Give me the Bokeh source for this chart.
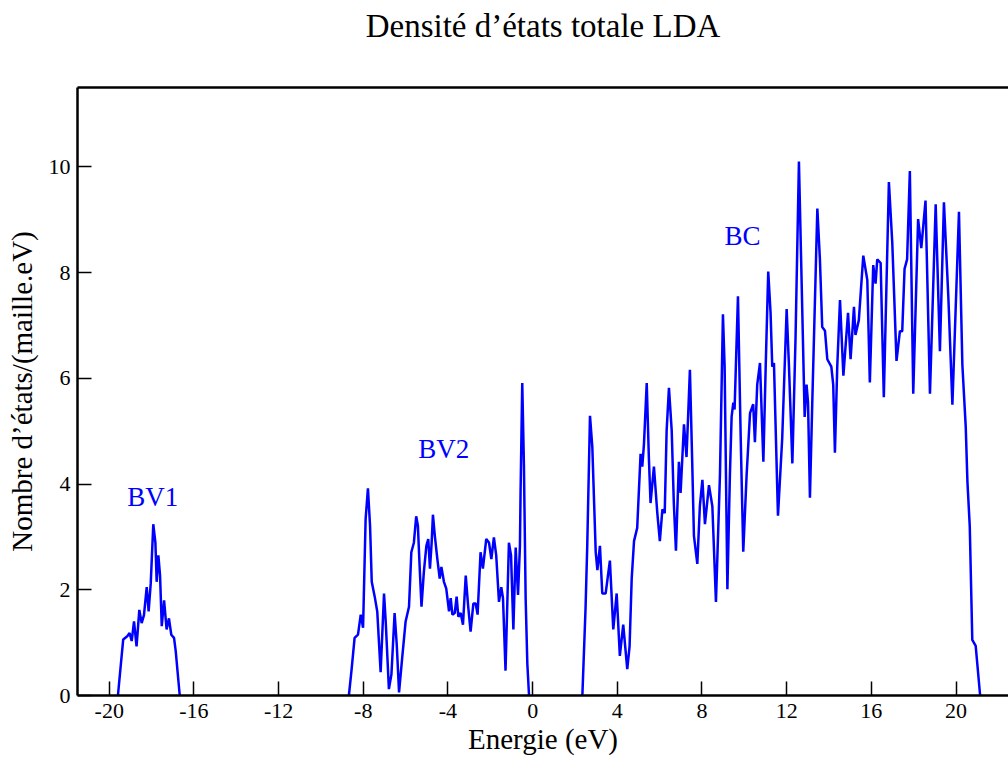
from bokeh.plotting import figure
from bokeh.models import Range1d, FixedTicker, LinearAxis, ColumnDataSource, Title
from bokeh.core.properties import value
from bokeh.embed import file_html
from bokeh.resources import INLINE

# ---- data ----
energy = [
    -19.59, -19.45, -19.34, -19.15, -19.04, -18.94, -18.83, -18.71, -18.58, -18.47,
    -18.36, -18.23, -18.14, -18.04, -17.92, -17.82, -17.76, -17.68, -17.60, -17.52,
    -17.41, -17.29, -17.18, -17.07, -16.94, -16.86, -16.75, -16.67,
    -8.68, -8.55, -8.41, -8.25, -8.12, -8.01, -7.89, -7.78, -7.68, -7.60, -7.46, -7.34,
    -7.18, -7.02, -6.94, -6.79, -6.67, -6.52, -6.42, -6.31, -6.16, -6.00, -5.84, -5.73,
    -5.61, -5.50, -5.42, -5.34, -5.25, -5.14, -5.02, -4.93, -4.85, -4.77, -4.71, -4.62,
    -4.50, -4.39, -4.31, -4.19, -4.08, -3.95, -3.87, -3.79, -3.68, -3.59, -3.51, -3.40,
    -3.29, -3.16, -3.05, -2.93, -2.80, -2.69, -2.60, -2.46, -2.35, -2.19, -2.06, -1.95,
    -1.83, -1.72, -1.59, -1.48, -1.40, -1.28, -1.12, -1.02, -0.91, -0.80, -0.69, -0.60,
    -0.57, -0.49, -0.41, -0.33, -0.25, -0.17,
    2.35, 2.50, 2.58, 2.71, 2.82, 2.98, 3.06, 3.18, 3.29, 3.45, 3.65, 3.81, 3.97, 4.12,
    4.28, 4.47, 4.58, 4.68, 4.79, 4.94, 5.10, 5.18, 5.26, 5.39, 5.49, 5.57, 5.73, 5.89,
    6.01, 6.13, 6.24, 6.33, 6.44, 6.57, 6.67, 6.77, 6.91, 6.99, 7.15, 7.27, 7.43, 7.54,
    7.62, 7.78, 7.90, 8.02, 8.14, 8.33, 8.49, 8.66, 8.85, 8.99, 9.07, 9.20, 9.32, 9.40,
    9.48, 9.54, 9.70, 9.83, 9.95, 10.11, 10.27, 10.42, 10.50, 10.61, 10.74, 10.90, 11.01,
    11.13, 11.24, 11.32, 11.40, 11.59, 11.79, 12.00, 12.11, 12.27, 12.42, 12.58, 12.74,
    12.85, 12.94, 13.01, 13.10, 13.21, 13.45, 13.57, 13.68, 13.81, 13.92, 14.11, 14.20,
    14.28, 14.39, 14.52, 14.68, 14.90, 15.02, 15.18, 15.25, 15.41, 15.62, 15.81, 15.93,
    16.09, 16.20, 16.28, 16.44, 16.59, 16.83, 16.99, 17.19, 17.35, 17.46, 17.57, 17.69,
    17.82, 17.98, 18.21, 18.36, 18.56, 18.77, 19.04, 19.24, 19.43, 19.64, 19.83, 20.14,
    20.30, 20.46, 20.54, 20.65, 20.77, 20.93, 21.14,
]
dos = [
    0.0, 0.60, 1.06, 1.12, 1.18, 1.03, 1.40, 0.93, 1.62, 1.37,
    1.52, 2.05, 1.59, 2.12, 3.24, 2.89, 2.15, 2.65, 2.27, 1.31,
    1.80, 1.25, 1.46, 1.15, 1.09, 0.84, 0.35, 0.0,
    0.0, 0.50, 1.09, 1.15, 1.53, 1.28, 3.33, 3.92, 3.21, 2.15, 1.87, 1.59,
    0.44, 1.93, 1.40, 0.12, 0.40, 1.56, 0.97, 0.06, 0.72, 1.40, 1.68, 2.71,
    2.89, 3.39, 3.21, 2.46, 1.68, 2.33, 2.83, 2.96, 2.40, 2.89, 3.42, 3.02,
    2.58, 2.21, 2.43, 2.15, 2.02, 1.59, 1.84, 1.53, 1.56, 1.87, 1.49, 1.56,
    1.34, 2.27, 1.71, 1.21, 1.74, 1.74, 1.53, 2.71, 2.40, 2.96, 2.89, 2.58,
    2.99, 2.65, 1.77, 2.05, 1.84, 0.47, 2.89, 2.65, 1.25, 2.80, 1.90, 2.83,
    3.83, 5.91, 4.33, 1.84, 0.60, 0.0,
    0.0, 1.65, 2.83, 5.29, 4.70, 2.71, 2.37, 2.83, 1.93, 1.93, 2.55, 1.25, 1.93, 0.75,
    1.34, 0.50, 0.93, 2.21, 2.92, 3.17, 4.57, 4.33, 4.76, 5.91, 4.51, 3.64, 4.33, 3.45,
    2.92, 3.52, 3.45, 5.01, 5.82, 5.01, 3.64, 2.74, 4.42, 3.83, 5.13, 4.51, 6.16, 4.39,
    3.02, 2.49, 3.58, 4.08, 3.24, 3.98, 3.58, 1.77, 4.18, 7.21, 6.22, 2.01, 4.18, 5.27,
    5.54, 5.41, 7.55, 4.86, 2.72, 4.18, 5.34, 5.51, 4.79, 5.88, 6.29, 4.42, 6.22,
    8.02, 7.24, 6.22, 6.29, 3.40, 4.86, 7.31, 6.22, 4.39, 6.77, 10.10, 7.24,
    5.27, 5.88, 5.54, 3.74, 5.54, 9.21, 8.26, 6.97, 6.90, 6.36, 6.22, 5.88,
    4.59, 6.22, 7.48, 6.05, 7.24, 6.36, 7.35, 6.82, 7.10, 8.32, 7.86, 5.92,
    8.14, 7.79, 8.25, 8.18, 5.64, 9.71, 8.56, 6.33, 6.89, 6.89, 8.07, 8.25,
    9.92, 5.71, 9.01, 8.46, 9.36, 5.71, 9.29, 6.51, 9.33, 7.52, 5.50, 9.15,
    6.26, 5.08, 4.04, 3.20, 1.05, 0.94, 0.0,
]

band_names = ["BV1", "BV2", "BC"]
band_x = [-17.95, -4.20, 9.92]
band_y = [3.75, 4.66, 8.69]

x_ticks = [-20, -16, -12, -8, -4, 0, 4, 8, 12, 16, 20]
y_ticks = [0, 2, 4, 6, 8, 10]

title_text = "Densité d’états totale LDA"
SERIF = "Liberation Serif"

# split the curve into its bands (a new band starts after two consecutive zeros)
xs, ys = [[]], [[]]
for i, (e, d) in enumerate(zip(energy, dos)):
    if i > 0 and d == 0.0 and dos[i - 1] == 0.0:
        xs.append([]); ys.append([])
    xs[-1].append(e); ys[-1].append(d)

p = figure(width=1008, height=757,
           x_range=Range1d(-21.5, 22.48), y_range=Range1d(0, 11.5),
           output_backend="svg", toolbar_location=None,
           min_border_left=77, min_border_right=0, min_border_top=86, min_border_bottom=55)

p.outline_line_color = None
p.xgrid.visible = False
p.ygrid.visible = False
p.background_fill_color = "white"
p.border_fill_color = "white"

p.multi_line(xs, ys, line_color="#0000ff", line_width=2.5)

src = ColumnDataSource(dict(x=band_x, y=band_y, t=band_names))
p.text(x="x", y="y", text="t", source=src, text_font=value(SERIF),
       text_font_size="27px", text_color="#0000ff", text_align="center",
       text_baseline="middle")

for ax in (p.xaxis[0], p.yaxis[0]):
    ax.axis_line_width = 2.5
    ax.axis_line_color = "black"
    ax.major_tick_in = 14
    ax.major_tick_out = 0
    ax.major_tick_line_width = 1.5
    ax.minor_tick_in = 0
    ax.minor_tick_out = 0
    ax.major_label_text_font = SERIF
    ax.major_label_text_font_size = "22px"
    ax.major_label_text_color = "black"
    ax.axis_label_text_font = SERIF
    ax.axis_label_text_font_size = "29px"
    ax.axis_label_text_font_style = "normal"
    ax.axis_label_text_color = "black"

p.xaxis[0].ticker = FixedTicker(ticks=x_ticks)
p.yaxis[0].ticker = FixedTicker(ticks=y_ticks)
p.xaxis[0].major_label_overrides = {t: str(t) for t in x_ticks}
p.yaxis[0].major_label_overrides = {t: str(t) for t in y_ticks}
p.xaxis[0].axis_label = "Energie (eV)"
p.yaxis[0].axis_label = "Nombre d’états/(maille.eV)"
p.xaxis[0].major_label_standoff = 8
p.yaxis[0].major_label_standoff = 7
p.xaxis[0].axis_label_standoff = 2
p.yaxis[0].axis_label_standoff = 8

top = LinearAxis(ticker=FixedTicker(ticks=[]), axis_line_width=2.5, axis_line_color="black",
                 major_tick_in=0, major_tick_out=0, minor_tick_in=0, minor_tick_out=0,
                 major_label_text_font_size="0px")
p.add_layout(top, "above")

# white (invisible) spacer between the top frame line and the title
spacer = Title(text=".", text_font_size="1px", text_color="white", standoff=36)
p.add_layout(spacer, "above")

main_title = Title(text=title_text, text_font=SERIF, text_font_size="33px",
                   text_font_style="normal", text_color="black", align="center",
                   standoff=10)
p.add_layout(main_title, "above")

open("out.html", "w").write(file_html(p, INLINE))
